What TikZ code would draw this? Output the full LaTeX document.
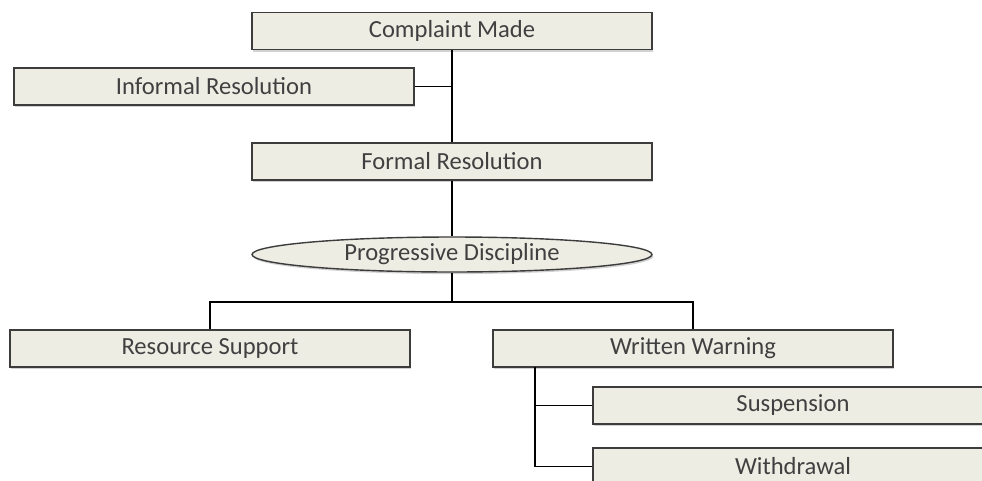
\documentclass[tikz,border=0pt]{standalone}
\usepackage{fontspec}
\setmainfont{Carlito}
\usepackage{xcolor}
\usepackage{tikz}
\usetikzlibrary{shapes.geometric,shadows}

\definecolor{boxfill}{RGB}{238,237,228}
\definecolor{boxline}{RGB}{60,60,60}

\begin{document}
\begin{tikzpicture}[x=0.02cm, y=-0.02cm, line width=0.8pt,
    stage/.style={draw=boxline, fill=boxfill, minimum width=8cm, minimum height=0.74cm,
        inner sep=0pt, font=\fontsize{14}{16}\selectfont, text=black!75,
        drop shadow={shadow xshift=0.8pt, shadow yshift=-1.2pt, fill=black!35}},
    hub/.style={stage, ellipse, minimum height=0.7cm}]
                \clip (0,0) rectangle (982,480);
                % top of the process
                \node[stage] (made) at (452,31) {Complaint Made};
                \node[stage] (informal) at (214,86.5) {Informal Resolution};
                \node[stage] (formal) at (452,161.5) {Formal Resolution};
                \node[hub] (progressive) at (452,254.5) {Progressive Discipline};
                % outcomes
                \node[stage] (support) at (210,348.5) {Resource Support};
                \node[stage] (warning) at (693,348.5) {Written Warning};
                \node[stage] (suspension) at (793,405.5) {Suspension};
                \node[stage] (withdrawal) at (793,466.5) {Withdrawal};
                \coordinate (split) at (452,302);
                \coordinate (trunk) at (535,367);
                \draw (made) -- (formal);
                \draw (informal) -- (informal -| made);
                \draw (formal) -- (progressive);
                \draw (progressive) -- (split);
                \draw (support) |- (split) -| (warning);
                \draw (trunk) |- (suspension);
                \draw (trunk) |- (withdrawal);
            \end{tikzpicture}
\end{document}
